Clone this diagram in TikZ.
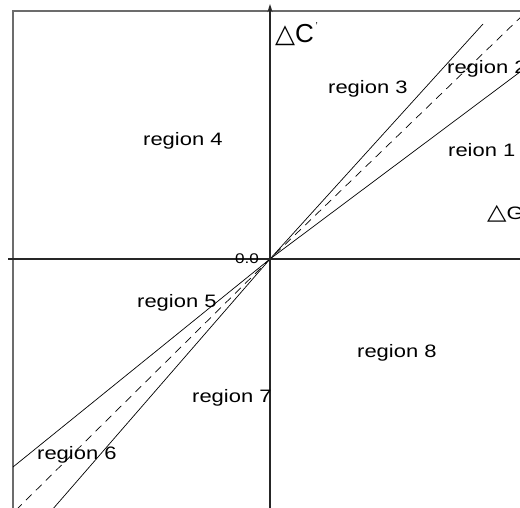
\documentclass[tikz,border=0pt]{standalone}
\usepackage{fontspec}
\usetikzlibrary{arrows.meta}
\setmainfont{Liberation Sans}
\newfontfamily\labfont[FakeStretch=1.22]{Liberation Sans}
\newfontfamily\symfont[FakeStretch=1.15]{DejaVu Sans}
\newfontfamily\plainsym{DejaVu Sans}
\newcommand{\tri}{{\symfont\fontsize{22}{22}\selectfont △}}
\begin{document}
\begin{tikzpicture}[x=1pt,y=-1pt,
  lab/.style={font=\labfont\fontsize{18}{18}\selectfont, inner sep=0pt, anchor=base west},
  ray/.style={line width=0.7pt, black},
  dray/.style={line width=0.7pt, black, dash pattern=on 8pt off 6pt},
  frame/.style={draw=gray!85!black, line width=1.3pt},
  axis/.style={line width=2pt, black!85}]
\useasboundingbox (0,0) rectangle (520,508);
\clip (0,0) rectangle (520,508);
% frame
\draw[frame] (13,540) -- (13,11) -- (560,11);
% coordinates
\coordinate (O) at (270,259);
\coordinate (UA) at (520,72);
\coordinate (UB) at (525,13);
\coordinate (UC) at (483,24);
\coordinate (LA) at (13,467);
\coordinate (LB) at (16,510);
\coordinate (LC) at (52,510);
\coordinate (xl) at (8,259);
\coordinate (xr) at (560,259);
\coordinate (yb) at (270,540);
\coordinate (yt) at (270,4);
% rays
\draw[ray] (LA) -- (O) -- (UA);
\draw[dray] (LB) -- (O) -- (UB);
\draw[ray] (LC) -- (O) -- (UC);
% axes
\draw[axis] (xl) -- (xr);
\draw[axis, -{Stealth[length=8pt,width=5pt]}] (yb) -- (yt);
% labels
\node[lab] (r4) at (143,146) {region 4};
\node[lab] (r3) at (328,94) {region 3};
\node[lab] (r2) at (447,74) {region 2};
\node[lab] (r1) at (448,157) {reion 1};
\node[lab] (dg) at (487,220) {\tri G};
\node[lab, font=\fontsize{26}{26}\selectfont] (dc) at (275,43)
  {{\plainsym\fontsize{26}{26}\selectfont △}C\raisebox{13pt}{\fontsize{10}{10}\selectfont\,'}};
\node[lab, font=\labfont\fontsize{14}{14}\selectfont] (zero) at (235,264) {0.0};
\node[lab] (r5) at (137,307) {region 5};
\node[lab] (r8) at (357,357) {region 8};
\node[lab] (r7) at (192,402) {region 7};
\node[lab] (r6) at (37,459) {region 6};
\end{tikzpicture}
\end{document}
